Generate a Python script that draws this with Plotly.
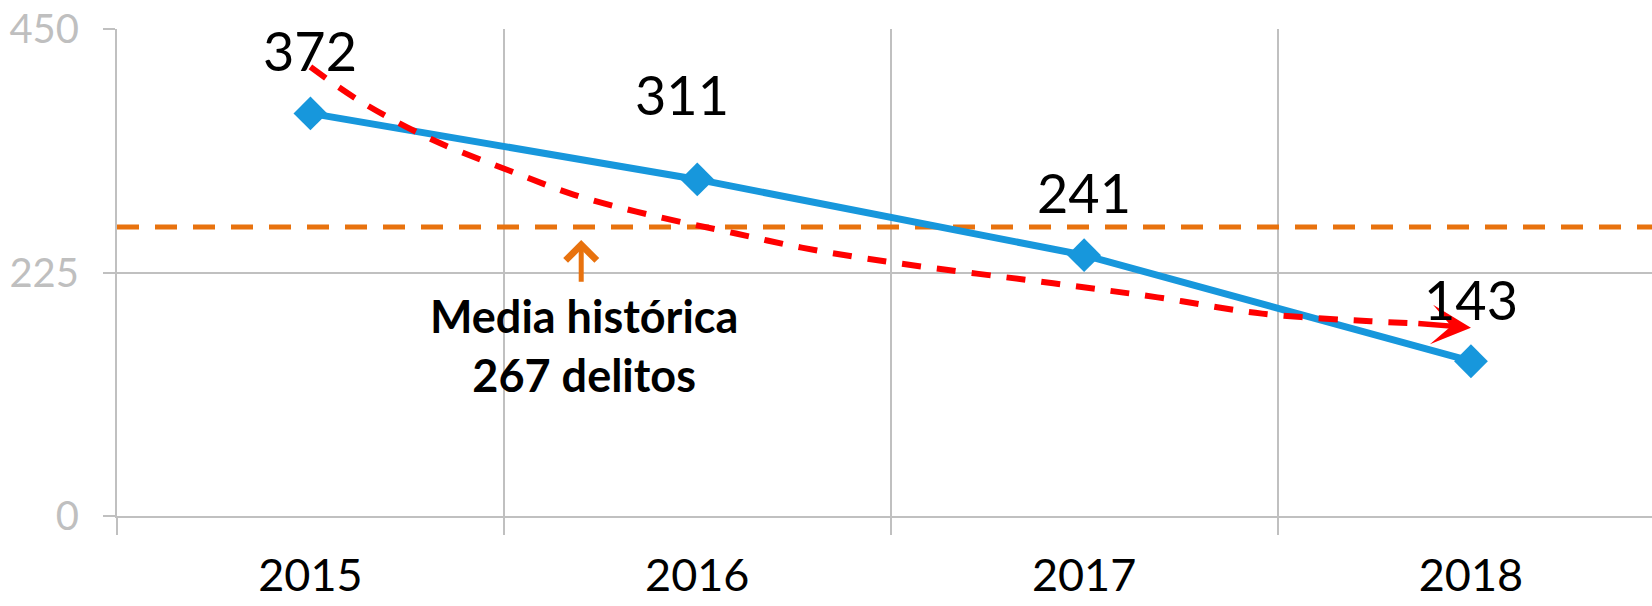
import plotly.graph_objects as go

# Delitos registrados por año
YEARS = [2015, 2016, 2017, 2018]
DELITOS = [372, 311, 241, 143]

# Media histórica del periodo
MEDIA = 267

# Flecha de tendencia (trazo libre)
TREND_X = [2015.00, 2015.13, 2015.32, 2015.53, 2015.68, 2015.88, 2016.10,
           2016.27, 2016.51, 2016.92, 2017.19, 2017.46, 2017.74, 2017.86]
TREND_Y = [415, 383, 347, 317, 297, 278, 261, 248, 234, 215, 202, 187, 180, 178]
TREND_TIP = (2018.00, 174)

Y_TICKS = [0, 225, 450]

FONT = "Lato"
GRID = "#c0c0c0"
BLUE = "#1797dc"
ORANGE = "#e8720e"
RED = "#ff0000"

fig = go.Figure()

# línea de la media
fig.add_trace(go.Scatter(
    x=[2014.5, 2018.6], y=[MEDIA, MEDIA], mode="lines",
    line=dict(color=ORANGE, width=5, dash="22px,16px"),
    hoverinfo="skip", showlegend=False,
))

# serie principal
fig.add_trace(go.Scatter(
    x=YEARS, y=DELITOS, mode="lines+markers",
    line=dict(color=BLUE, width=7),
    marker=dict(symbol="diamond", size=26, color=BLUE),
    showlegend=False,
))

# tendencia
fig.add_trace(go.Scatter(
    x=TREND_X, y=TREND_Y, mode="lines",
    line=dict(color=RED, width=6, dash="19px,16px", shape="spline"),
    hoverinfo="skip", showlegend=False,
))

annotations = []
# punta de la flecha de tendencia
annotations.append(dict(
    x=TREND_TIP[0], y=TREND_TIP[1], ax=TREND_X[-1], ay=TREND_Y[-1],
    xref="x", yref="y", axref="x", ayref="y", text="",
    showarrow=True, arrowhead=3, arrowsize=1.2, arrowwidth=5.5, arrowcolor=RED,
))

# etiquetas de valores
label_shift = {2015: (0, 63), 2016: (-15, 85), 2017: (0, 63), 2018: (0, 62)}
for yr, v in zip(YEARS, DELITOS):
    dx, dy = label_shift[yr]
    annotations.append(dict(
        x=yr, y=v, xref="x", yref="y", text=str(v), showarrow=False,
        xshift=dx, yshift=dy, yanchor="middle",
        font=dict(family=FONT, size=54, color="black"),
    ))

# flecha hacia la media
annotations.append(dict(
    x=2015.70, y=MEDIA - 12, ax=2015.70, ay=215,
    xref="x", yref="y", axref="x", ayref="y", text="",
    showarrow=True, arrowhead=4, arrowsize=1.2, arrowwidth=5, arrowcolor=ORANGE,
))
annotations.append(dict(
    x=2015.707, y=158, xref="x", yref="y",
    text=f"<b>Media histórica<br>{MEDIA} delitos</b>", showarrow=False,
    yanchor="middle", align="center",
    font=dict(family=FONT, size=45, color="black"),
))

fig.update_layout(
    width=1652, height=606,
    margin=dict(l=117, r=0, t=29, b=90, autoexpand=False),
    paper_bgcolor="white", plot_bgcolor="white",
    font=dict(family=FONT),
    annotations=annotations,
    xaxis=dict(
        range=[2014.5, 2018.468], automargin=False,
        tickmode="array", tickvals=YEARS, ticktext=[str(y) for y in YEARS],
        ticks="", showgrid=False, zeroline=False,
        showline=True, linecolor=GRID, linewidth=2,
        tickfont=dict(family=FONT, size=45, color="black"),
        ticklabelstandoff=19,
        minor=dict(tick0=2014.5, dtick=1, showgrid=True, gridcolor=GRID,
                   gridwidth=2, ticks="outside", ticklen=17,
                   tickcolor=GRID, tickwidth=2),
    ),
    yaxis=dict(
        range=[0, 450], tickmode="array", tickvals=Y_TICKS, automargin=False,
        showgrid=True, gridcolor=GRID, gridwidth=2, zeroline=False,
        showline=True, linecolor=GRID, linewidth=2,
        ticks="outside", ticklen=12, tickcolor=GRID, tickwidth=2,
        tickfont=dict(family=FONT, size=40, color="#bfbfbf"),
        ticklabelstandoff=16,
    ),
)

fig.write_html("out.html")
